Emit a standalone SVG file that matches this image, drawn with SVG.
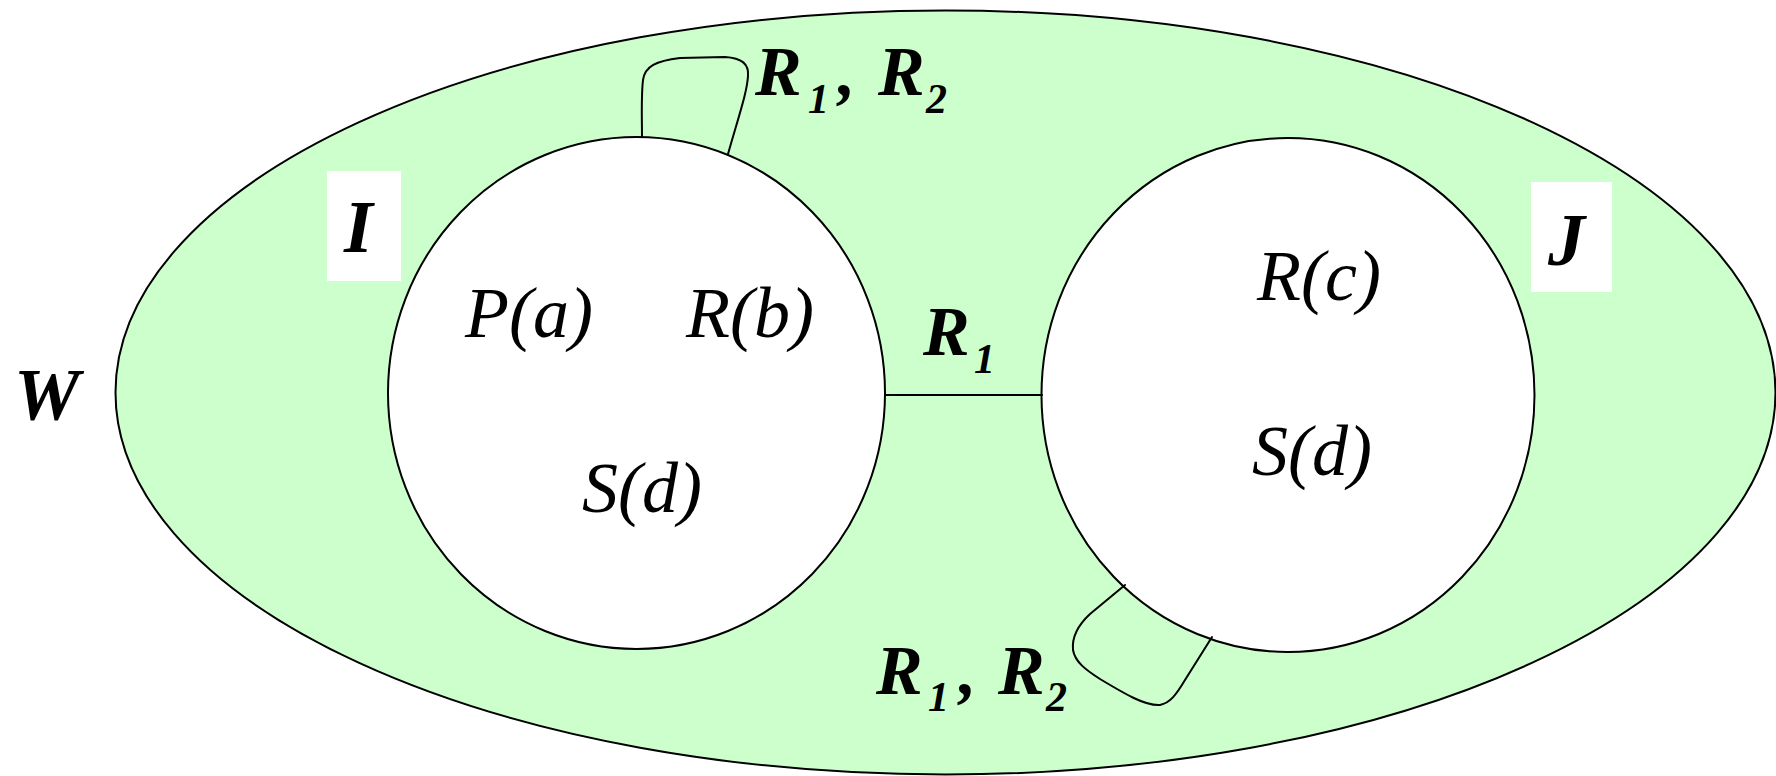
<svg xmlns="http://www.w3.org/2000/svg" width="1776" height="776" viewBox="0 0 1776 776">
<style>
.ln{fill:none;stroke:#000;stroke-width:2;stroke-linejoin:round;stroke-linecap:round}
.it{font-family:"Liberation Serif",serif;font-style:italic;font-size:72px;fill:#000}
.bi{font-family:"Liberation Serif",serif;font-style:italic;font-weight:bold;fill:#000}
.big{font-size:74px}
.lab{font-size:70px}
.sub{font-size:42px}
</style>
<rect width="1776" height="776" fill="#fff"/>
<g id="W">
<ellipse cx="945.5" cy="392.5" rx="830" ry="382" fill="#ccffcc" stroke="#000" stroke-width="2"/>
<text class="bi big" x="14" y="420">W</text>
</g>
<g id="I">
<ellipse cx="636.5" cy="393" rx="248.5" ry="256" fill="#fff" stroke="#000" stroke-width="2"/>
<rect x="327" y="171" width="74" height="110" fill="#fff"/>
<text class="bi big" x="344" y="252">I</text>
<text class="it" x="465" y="337">P(a)</text>
<text class="it" x="686" y="337">R(b)</text>
<text class="it" x="582" y="512">S(d)</text>
</g>
<g id="J">
<ellipse cx="1288" cy="395" rx="246.5" ry="257" fill="#fff" stroke="#000" stroke-width="2"/>
<rect x="1531" y="182" width="81" height="110" fill="#fff"/>
<text class="bi big" x="1548" y="265">J</text>
<text class="it" x="1257" y="300">R(c)</text>
<text class="it" x="1252" y="475">S(d)</text>
</g>
<g id="connectors">
<line class="ln" x1="885" y1="395" x2="1042" y2="395"/>
<path class="ln" d="M642,137 C642,118 641,98 643,80 C645,66 656,61 680,58 L725,57 C742,58 749,64 748,76 C747,92 740,112 728,154"/>
<path class="ln" d="M1125,585 L1090,614 C1076,627 1072,640 1073,650 C1075,662 1086,670 1100,679 C1125,694 1145,706 1160,705 C1170,703 1176,695 1185,680 L1212,637"/>
<text class="bi lab" x="755" y="95">R<tspan class="sub" x="808" y="113">1</tspan><tspan x="838" y="95">,</tspan><tspan x="878" y="95">R</tspan><tspan class="sub" x="926" y="113">2</tspan></text>
<text class="bi lab" x="923" y="355">R<tspan class="sub" x="974" y="373">1</tspan></text>
<text class="bi lab" x="876" y="694">R<tspan class="sub" x="928" y="711">1</tspan><tspan x="959" y="694">,</tspan><tspan x="998" y="694">R</tspan><tspan class="sub" x="1046" y="711">2</tspan></text>
</g>
</svg>
